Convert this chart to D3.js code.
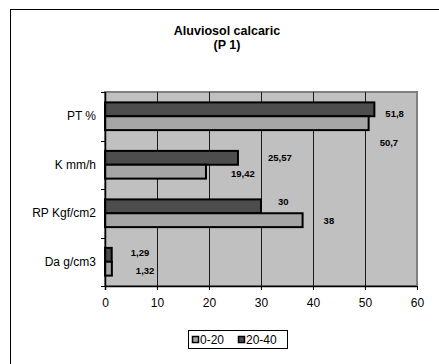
<!DOCTYPE html>
<html>
<head>
<meta charset="utf-8">
<script src="https://cdn.jsdelivr.net/npm/d3@7"></script>
<style>
  html, body { margin: 0; padding: 0; background: #fff; }
  svg { display: block; font-family: "Liberation Sans", Arial, sans-serif; }
</style>
</head>
<body>
<svg id="chart" width="439" height="364"></svg>
<script>
// Soil properties, profile P 1
const categories = ["PT %", "K mm/h", "RP Kgf/cm2", "Da g/cm3"];
const seriesNames = ["0-20", "20-40"];
const values0020 = [50.7, 19.42, 38, 1.32];
const values2040 = [51.8, 25.57, 30, 1.29];
const xTicks = [0, 10, 20, 30, 40, 50, 60];
const labelText0020 = ["50,7", "19,42", "38", "1,32"];
const labelText2040 = ["51,8", "25,57", "30", "1,29"];

// label nudges (px) from the bar end, per category
const nudge0020 = [[11, 19], [25, 2], [21, 0], [24, 2]];
const nudge2040 = [[11, 4], [30, 0], [17, -5], [19, -2]];

const svg = d3.select("#chart");
const W = 439, H = 364;

// chart frame (right and bottom edges run past the canvas)
svg.append("rect")
  .attr("x", 10.5).attr("y", 9.5)
  .attr("width", W + 20).attr("height", H + 20)
  .attr("fill", "#fff").attr("stroke", "#000").attr("stroke-width", 1);

// title
const title = svg.append("text")
  .attr("text-anchor", "middle")
  .attr("font-weight", "bold").attr("font-size", 12.5).attr("fill", "#000");
title.append("tspan").attr("x", 227).attr("y", 35).text("Aluviosol calcaric");
title.append("tspan").attr("x", 227).attr("y", 49).text("(P 1)");

const plot = { left: 105, right: 417, top: 92, bottom: 286 };

const x = d3.scaleLinear().domain([0, 60]).range([plot.left, plot.right]);
const y = d3.scaleBand().domain(categories)
  .range([plot.top, plot.bottom]).paddingInner(0).paddingOuter(0);

// bar geometry: two bars per band, gap = 150% of a bar
const barH = y.bandwidth() / 3.5;
const gap = barH * 1.5;

// plot background
svg.append("rect")
  .attr("x", plot.left).attr("y", plot.top)
  .attr("width", plot.right - plot.left).attr("height", plot.bottom - plot.top)
  .attr("fill", "#c0c0c0").attr("stroke", "#808080").attr("stroke-width", 2);

// vertical gridlines
svg.append("g").selectAll("line")
  .data(xTicks.slice(1, -1))
  .join("line")
  .attr("x1", d => Math.round(x(d)) + 0.5).attr("x2", d => Math.round(x(d)) + 0.5)
  .attr("y1", plot.top).attr("y2", plot.bottom)
  .attr("stroke", "#1a1a1a").attr("stroke-width", 1);

const colors = { "0-20": "#a6a6a6", "20-40": "#4d4d4d" };

// 20-40 sits on top in each band, 0-20 below it
const rows = [];
categories.forEach((c, i) => {
  rows.push({ cat: c, series: "20-40", v: values2040[i], txt: labelText2040[i], nudge: nudge2040[i], slot: 0 });
  rows.push({ cat: c, series: "0-20", v: values0020[i], txt: labelText0020[i], nudge: nudge0020[i], slot: 1 });
});

const barY = d => y(d.cat) + gap / 2 + d.slot * barH;

svg.append("g").selectAll("rect")
  .data(rows)
  .join("rect")
  .attr("x", x(0))
  .attr("y", d => barY(d))
  .attr("width", d => x(d.v) - x(0))
  .attr("height", barH)
  .attr("fill", d => colors[d.series])
  .attr("stroke", "#000").attr("stroke-width", 2);

// value labels
svg.append("g").selectAll("text")
  .data(rows)
  .join("text")
  .attr("x", d => x(d.v) + d.nudge[0])
  .attr("y", d => barY(d) + barH / 2 + d.nudge[1])
  .attr("dy", "0.35em")
  .attr("font-size", 9.5).attr("font-weight", "bold").attr("fill", "#000")
  .text(d => d.txt);

// axes
const xAxis = d3.axisBottom(x).tickValues(xTicks).tickSize(4).tickPadding(8).tickFormat(d3.format("d"));
const gx = svg.append("g").attr("transform", `translate(0,${plot.bottom})`).call(xAxis);
gx.select(".domain").attr("stroke", "#000").attr("stroke-width", 1.5).attr("d", `M${plot.left},0.5H${plot.right}`);
gx.selectAll(".tick line").attr("stroke", "#000");
gx.selectAll(".tick text").attr("font-size", 12).attr("fill", "#000")
  .attr("font-family", "Liberation Sans, Arial, sans-serif");

// category axis: ticks sit on band boundaries
const gy = svg.append("g").attr("transform", `translate(${plot.left},0)`);
gy.append("line")
  .attr("x1", 0.5).attr("x2", 0.5).attr("y1", plot.top).attr("y2", plot.bottom + 4)
  .attr("stroke", "#000").attr("stroke-width", 1.5);
const bounds = categories.map(c => y(c)).concat([plot.bottom]);
gy.selectAll("line.tk")
  .data(bounds)
  .join("line").attr("class", "tk")
  .attr("x1", -4).attr("x2", 0)
  .attr("y1", d => Math.round(d) + 0.5).attr("y2", d => Math.round(d) + 0.5)
  .attr("stroke", "#000");
gy.selectAll("text")
  .data(categories)
  .join("text")
  .attr("x", -9)
  .attr("y", d => y(d) + y.bandwidth() / 2)
  .attr("dy", "0.35em")
  .attr("text-anchor", "end")
  .attr("font-size", 12).attr("fill", "#000")
  .text(d => d);

// legend
const lg = svg.append("g").attr("transform", "translate(188.5,330.5)");
lg.append("rect").attr("width", 99).attr("height", 18)
  .attr("fill", "#fff").attr("stroke", "#000");
const items = lg.selectAll("g.item")
  .data(seriesNames)
  .join("g").attr("class", "item")
  .attr("transform", (d, i) => `translate(${i === 0 ? 4 : 50},0)`);
items.append("rect")
  .attr("x", 0).attr("y", 6).attr("width", 6).attr("height", 6)
  .attr("fill", d => colors[d]).attr("stroke", "#000").attr("stroke-width", 1.5);
items.append("text")
  .attr("x", 7.5).attr("y", 9).attr("dy", "0.35em")
  .attr("font-size", 12).attr("fill", "#000")
  .text(d => d);
</script>
</body>
</html>
